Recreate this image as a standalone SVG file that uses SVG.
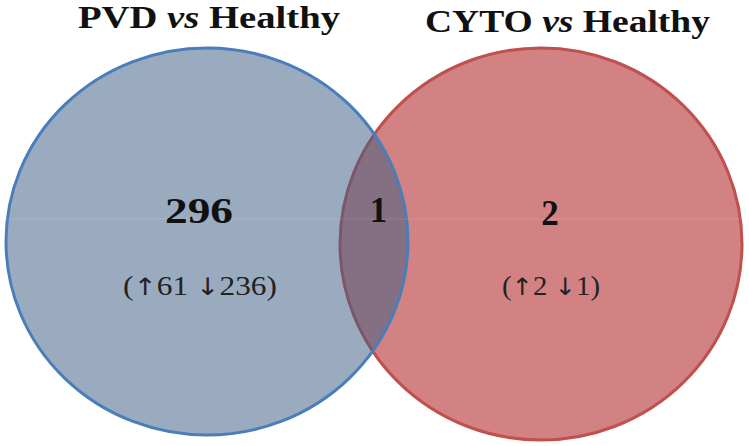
<svg xmlns="http://www.w3.org/2000/svg" width="749" height="446" viewBox="0 0 749 446">
  <style>
    .title { font-family: "Liberation Serif", "Times New Roman", serif; font-weight: bold; font-size: 31px; fill: #111; }
    .num { font-family: "Liberation Serif", "Times New Roman", serif; font-weight: bold; font-size: 35px; fill: #111; text-anchor: middle; }
    .sub { font-family: "Liberation Serif", "DejaVu Serif", serif; font-size: 27px; fill: #222; text-anchor: middle; }
    .arr { font-family: "DejaVu Sans", sans-serif; font-size: 24px; }
    .it { font-style: italic; }
  </style>
  <rect width="749" height="446" fill="#ffffff"/>
  <g id="cyto-set">
    <ellipse cx="541" cy="244" rx="201" ry="196" fill="#d28283" stroke="#c0504d" stroke-width="3"/>
  </g>
  <g id="pvd-set">
    <ellipse cx="207" cy="241.5" rx="201" ry="193.5" fill="rgb(63,93,132)" fill-opacity="0.52" stroke="#4a7ebb" stroke-width="3"/>
  </g>
  <line x1="0" y1="219" x2="749" y2="219" stroke="#ffffff" stroke-opacity="0.12" stroke-width="1"/>
  <g id="titles">
    <text class="title" x="78" y="28" textLength="262" lengthAdjust="spacingAndGlyphs">PVD <tspan class="it">vs</tspan> Healthy</text>
    <text class="title" x="425" y="32" textLength="285" lengthAdjust="spacingAndGlyphs">CYTO <tspan class="it">vs</tspan> Healthy</text>
  </g>
  <g id="pvd-only">
    <text class="num" x="199" y="223" textLength="68" lengthAdjust="spacingAndGlyphs">296</text>
    <text class="sub" x="200" y="295" textLength="154" lengthAdjust="spacingAndGlyphs">(<tspan class="arr">↑</tspan>61 <tspan class="arr">↓</tspan>236)</text>
  </g>
  <g id="overlap">
    <text class="num" x="378.5" y="222">1</text>
  </g>
  <g id="cyto-only">
    <text class="num" x="550" y="225">2</text>
    <text class="sub" x="551" y="295" textLength="98" lengthAdjust="spacingAndGlyphs">(<tspan class="arr">↑</tspan>2 <tspan class="arr">↓</tspan>1)</text>
  </g>
</svg>
